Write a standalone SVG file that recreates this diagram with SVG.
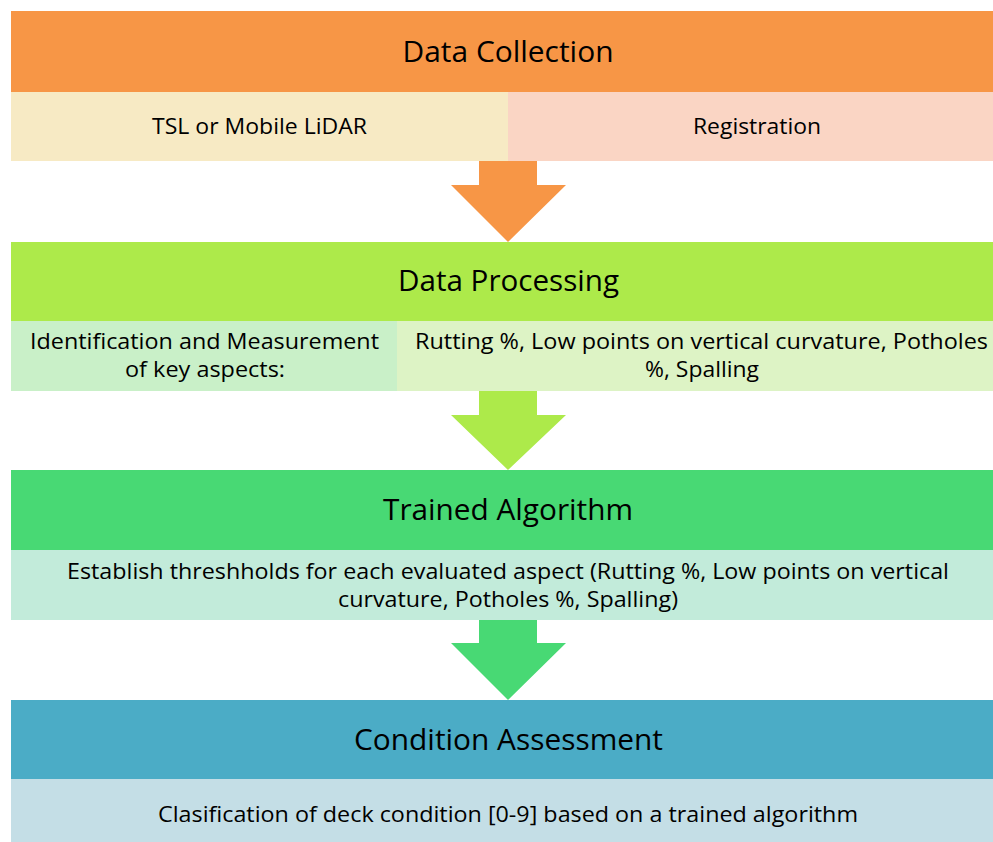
<svg xmlns="http://www.w3.org/2000/svg" width="993" height="842" viewBox="0 0 993 842">
<style>
.h{font-family:"Open Sans","Liberation Sans",sans-serif;font-size:29px;fill:#000;text-anchor:middle}
.s{font-family:"Open Sans","Liberation Sans",sans-serif;font-size:21px;fill:#000;text-anchor:middle}
</style>
<rect width="993" height="842" fill="#fff"/>
<g id="connectors">
<path d="M479,161 H537 V185 H566 L508,242 L451,185 H479 Z" fill="#F79646"/>
<path d="M479,391 H537 V415 H566 L508,470 L451,415 H479 Z" fill="#ADEA4A"/>
<path d="M479,620 H537 V643 H566 L508,700 L451,643 H479 Z" fill="#48D974"/>
</g>
<g id="data-collection">
<rect x="11" y="11" width="982" height="81" fill="#F79646"/>
<text class="h" x="508" y="62" textLength="211" lengthAdjust="spacingAndGlyphs">Data Collection</text>
<rect x="11" y="92" width="497" height="69" fill="#F7EAC4"/>
<rect x="508" y="92" width="485" height="69" fill="#FAD5C4"/>
<text class="s" x="259.5" y="134" textLength="215" lengthAdjust="spacingAndGlyphs">TSL or Mobile LiDAR</text>
<text class="s" x="757" y="134" textLength="128" lengthAdjust="spacingAndGlyphs">Registration</text>
</g>
<g id="data-processing">
<rect x="11" y="242" width="982" height="79" fill="#ADEA4A"/>
<text class="h" x="508.5" y="291" textLength="221" lengthAdjust="spacingAndGlyphs">Data Processing</text>
<rect x="11" y="321" width="386" height="70" fill="#C9F0C8"/>
<rect x="397" y="321" width="596" height="70" fill="#DDF3C5"/>
<text class="s" x="204.5" y="349" textLength="349" lengthAdjust="spacingAndGlyphs">Identification and Measurement</text>
<text class="s" x="205" y="377" textLength="160" lengthAdjust="spacingAndGlyphs">of key aspects:</text>
<text class="s" x="701.5" y="349" textLength="573" lengthAdjust="spacingAndGlyphs">Rutting %, Low points on vertical curvature, Potholes</text>
<text class="s" x="702" y="377" textLength="114" lengthAdjust="spacingAndGlyphs">%, Spalling</text>
</g>
<g id="trained-algorithm">
<rect x="11" y="470" width="982" height="80" fill="#48D974"/>
<text class="h" x="508" y="520" textLength="250" lengthAdjust="spacingAndGlyphs">Trained Algorithm</text>
<rect x="11" y="550" width="982" height="70" fill="#C2EBDA"/>
<text class="s" x="508" y="579" textLength="882" lengthAdjust="spacingAndGlyphs">Establish threshholds for each evaluated aspect (Rutting %, Low points on vertical</text>
<text class="s" x="508" y="607" textLength="340" lengthAdjust="spacingAndGlyphs">curvature, Potholes %, Spalling)</text>
</g>
<g id="condition-assessment">
<rect x="11" y="700" width="982" height="79" fill="#4BACC6"/>
<text class="h" x="508.5" y="750" textLength="309" lengthAdjust="spacingAndGlyphs">Condition Assessment</text>
<rect x="11" y="779" width="982" height="63" fill="#C4DEE6"/>
<text class="s" x="508" y="822" textLength="700" lengthAdjust="spacingAndGlyphs">Clasification of deck condition [0-9] based on a trained algorithm</text>
</g>
</svg>
